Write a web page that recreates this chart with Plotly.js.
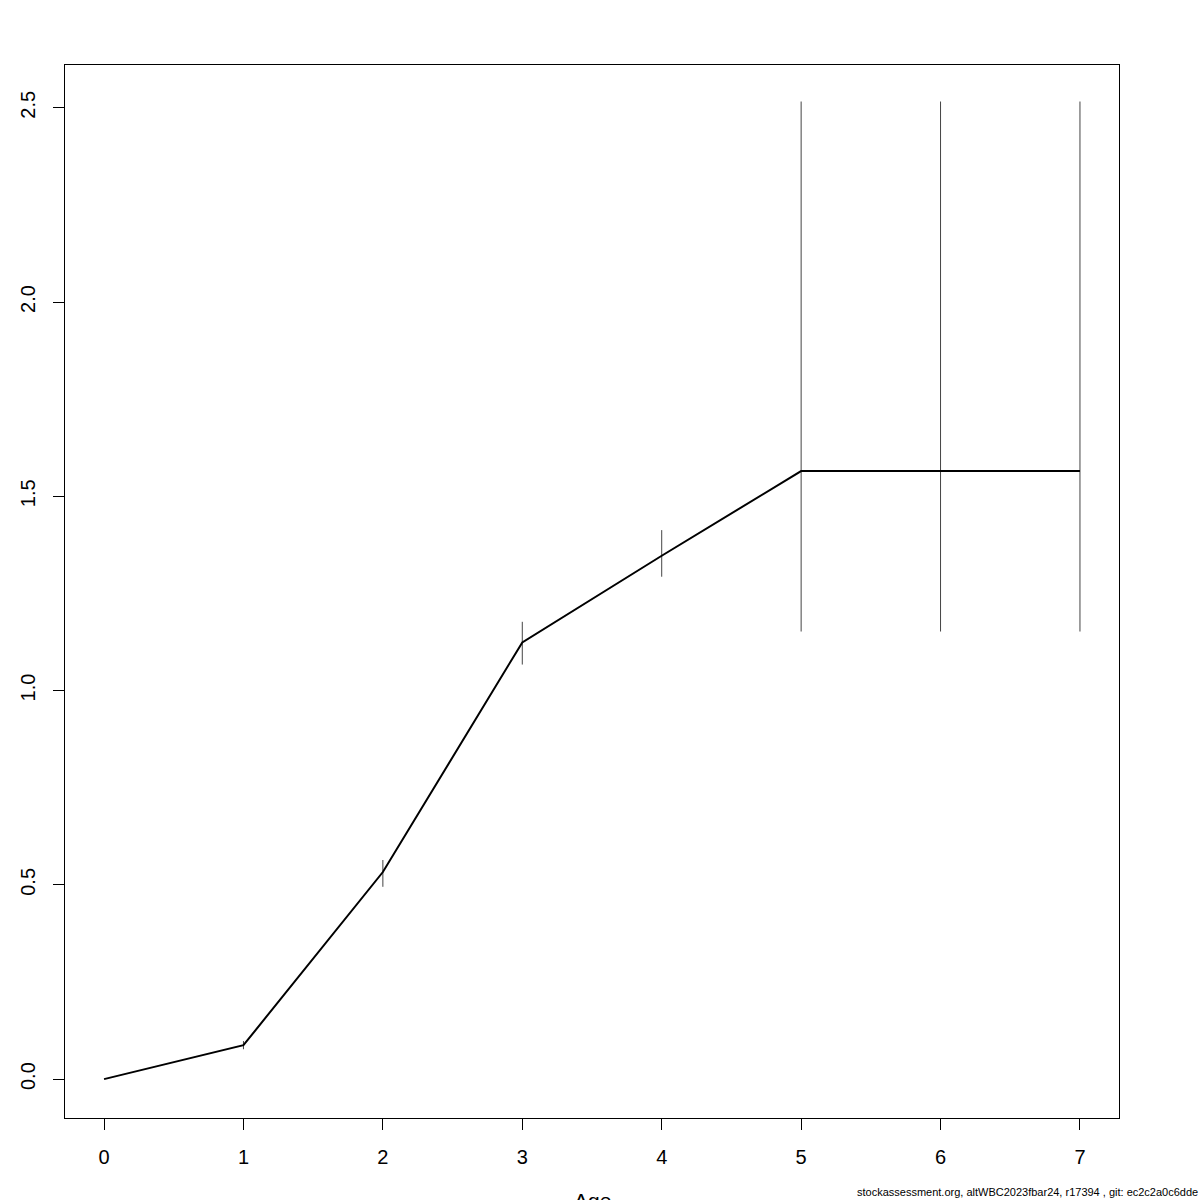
<!DOCTYPE html>
<html>
<head>
<meta charset="utf-8">
<script src="https://cdn.plot.ly/plotly-3.0.1.min.js"></script>
<style>html,body{margin:0;padding:0;background:#fff;}#chart{width:1200px;height:1200px;}</style>
</head>
<body>
<div id="chart"></div>
<script>
const ages = [0, 1, 2, 3, 4, 5, 6, 7];
const estimate = [0, 0.0875, 0.533, 1.124, 1.347, 1.565, 1.565, 1.565];
const lower = [0, 0.077, 0.495, 1.067, 1.293, 1.152, 1.152, 1.152];
const upper = [0, 0.098, 0.564, 1.177, 1.413, 2.516, 2.516, 2.516];
const xTicks = [0, 1, 2, 3, 4, 5, 6, 7];
const yTicks = [0, 0.5, 1.0, 1.5, 2.0, 2.5];
const footer = "stockassessment.org, altWBC2023fbar24, r17394 , git: ec2c2a0c6dde";

const ciAges = ages.slice(1);
const ciMid = ciAges.map((a, i) => (lower[i + 1] + upper[i + 1]) / 2);
const errPlus = ciAges.map((a, i) => upper[i + 1] - ciMid[i]);
const errMinus = ciAges.map((a, i) => ciMid[i] - lower[i + 1]);

const traces = [
  {
    x: ciAges, y: ciMid, type: 'scatter', mode: 'markers',
    marker: {size: 0.1, color: 'rgba(0,0,0,0)'},
    error_y: {type: 'data', symmetric: false, array: errPlus, arrayminus: errMinus,
              color: '#444444', thickness: 1, width: 0},
    hoverinfo: 'skip', showlegend: false
  },
  {
    x: ages, y: estimate, type: 'scatter', mode: 'lines',
    line: {color: '#000000', width: 2}, showlegend: false
  }
];

const layout = {
  width: 1200, height: 1200,
  margin: {l: 65, r: 81, t: 65, b: 82},
  paper_bgcolor: '#ffffff', plot_bgcolor: '#ffffff',
  font: {family: 'Liberation Sans, Arial, sans-serif', size: 20, color: '#000'},
  showlegend: false,
  xaxis: {
    range: [-0.28, 7.28], tickvals: xTicks, ticktext: xTicks.map(String),
    ticks: 'outside', ticklen: 11, tickcolor: '#000', tickwidth: 1,
    ticklabelstandoff: 10,
    showgrid: false, zeroline: false,
    showline: true, mirror: true, linecolor: '#000', linewidth: 1,
    tickfont: {size: 20}
  },
  yaxis: {
    range: [-0.1, 2.61], tickvals: yTicks, ticktext: yTicks.map(v => v.toFixed(1)),
    ticks: 'outside', ticklen: 11, tickcolor: '#000', tickwidth: 1,
    ticklabelstandoff: 10,
    tickangle: -90, showgrid: false, zeroline: false,
    showline: true, mirror: true, linecolor: '#000', linewidth: 1,
    tickfont: {size: 20}
  },
  annotations: [
    {text: 'Age', xref: 'paper', yref: 'paper', x: 0.5, y: -0.066,
     xanchor: 'center', yanchor: 'top', showarrow: false, font: {size: 21}},
    {text: footer, xref: 'paper', yref: 'paper', x: 1.0765, y: -0.0779,
     xanchor: 'right', yanchor: 'bottom', showarrow: false, font: {size: 11}}
  ]
};

Plotly.newPlot('chart', traces, layout, {displayModeBar: false, staticPlot: true});
</script>
</body>
</html>
